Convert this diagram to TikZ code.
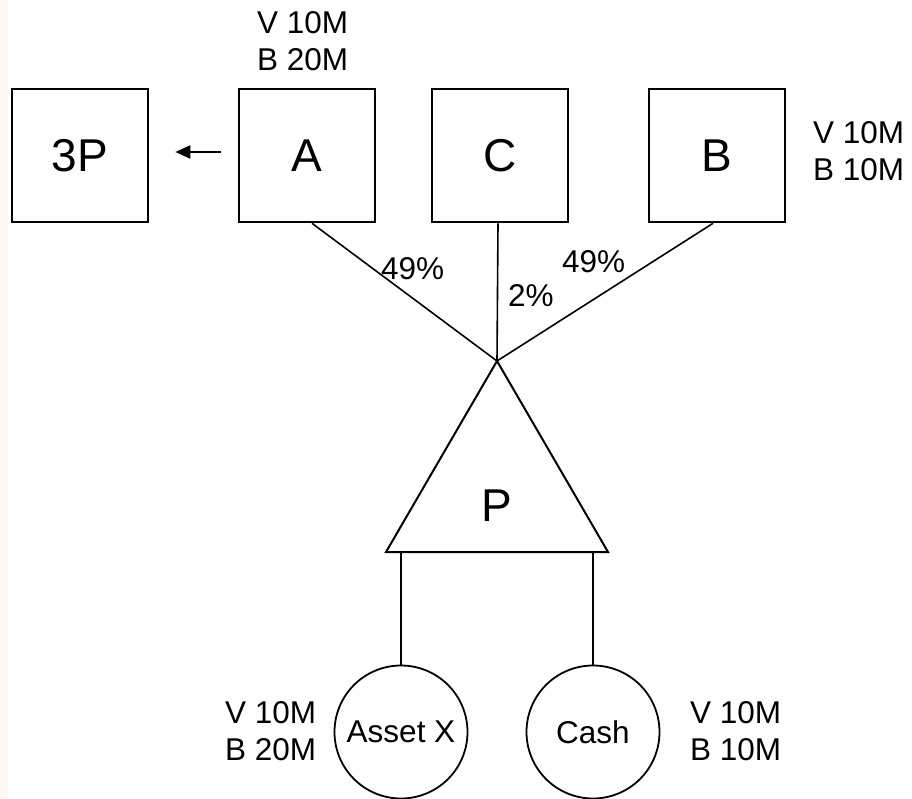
\documentclass[tikz,border=0pt]{standalone}
\usepackage{fontspec}
\setmainfont{Liberation Sans}
\usetikzlibrary{arrows.meta,calc}
\begin{document}
\begin{tikzpicture}[x=1pt,y=-1pt,
  bigtxt/.style={font=\fontsize{46}{52}\selectfont},
  smalltxt/.style={font=\fontsize{31.5}{37}\selectfont},
  boxnode/.style={draw,line width=2.6pt,minimum width=136pt,minimum height=133pt,inner sep=0pt,bigtxt},
  circnode/.style={draw,circle,line width=1.8pt,minimum size=133pt,inner sep=0pt,smalltxt},
  lbl/.style={smalltxt,inner sep=0pt,anchor=base west,align=left},
  link/.style={line width=1.6pt},
  stem/.style={line width=2.6pt}
]
\useasboundingbox (0,0) rectangle (912,799);
\fill[orange!6] (0,0) rectangle (8,799);
% boxes
\node[boxnode] (p3) at (80,155.5) {3P};
\node[boxnode] (a) at (307,155.5) {A};
\node[boxnode] (c) at (500,155.5) {C};
\node[boxnode] (b) at (717,155.5) {B};
% arrow
\draw[line width=2.2pt,-{Triangle[length=15pt,width=13pt]}] ($(a.west)+(-17,-3.5)$) -- ($(p3.east)+(26,-3.5)$);
% triangle
\coordinate (apex) at (497,361);
\coordinate (bl) at (386,552);
\coordinate (br) at (608,552);
\draw[line width=2pt,line join=miter] (apex) -- (br) -- (bl) -- cycle;
\node[bigtxt,inner sep=0pt] (p) at (497,506) {P};
% links
\draw[link] ($(a.south)+(5,0)$) -- (apex);
\draw[link] ($(c.south)+(-2,0)$) -- (apex);
\draw[link] ($(b.south)+(-4,0)$) -- (apex);
% percentages
\node[lbl] (pa) at (381,280) {49\%};
\node[lbl] (pc) at (508,307) {2\%};
\node[lbl] (pb) at (562,273) {49\%};
% circles
\node[circnode] (ax) at (401,732) {Asset X};
\node[circnode] (cash) at (593,732) {Cash};
\coordinate (tl) at (401,552);
\coordinate (tr) at (593,552);
\draw[stem] (tl) -- (ax.north);
\draw[stem] (tr) -- (cash.north);
% value labels (anchored at the baseline of the last line)
\node[lbl] (la) at (257,71) {V 10M\\B 20M};
\node[lbl] (lb) at (813,181) {V 10M\\B 10M};
\node[lbl] (lx) at (225,760) {V 10M\\B 20M};
\node[lbl] (lc) at (690,760) {V 10M\\B 10M};
\end{tikzpicture}
\end{document}
